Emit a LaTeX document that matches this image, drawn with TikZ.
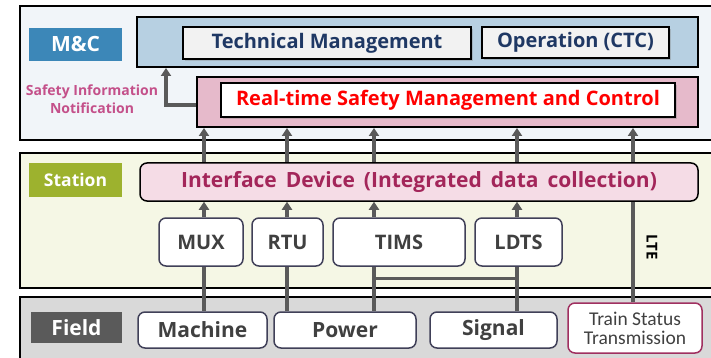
\documentclass[tikz,border=0pt]{standalone}
\usepackage{fontspec}
\setmainfont{Open Sans}
\newfontfamily\narrowfont{Carlito}
\usetikzlibrary{arrows.meta,shadows}

\definecolor{mcband}{HTML}{F1F5F9}
\definecolor{stband}{HTML}{F5F7E5}
\definecolor{fdband}{HTML}{D9D9D9}
\definecolor{mclabel}{HTML}{3C87B8}
\definecolor{stlabel}{HTML}{9DB22E}
\definecolor{fdlabel}{HTML}{5A5A5A}
\definecolor{mgmtblue}{HTML}{B7D0E2}
\definecolor{rtpink}{HTML}{E6BACB}
\definecolor{ifpink}{HTML}{F5DCE6}
\definecolor{iftext}{HTML}{A3265A}
\definecolor{navy}{HTML}{1F3864}
\definecolor{notif}{HTML}{C4508A}
\definecolor{wire}{HTML}{5A5A5A}
\definecolor{boxline}{HTML}{404058}
\definecolor{fieldtext}{HTML}{404040}
\definecolor{trainline}{HTML}{A03060}

\newcommand\wgap{\hspace{9pt}}

\begin{document}
\begin{tikzpicture}[x=1pt,y=-1pt,
  band/.style={draw=black,line width=1.5pt},
  layerlabel/.style={rectangle,inner sep=0pt,text=white,font=\bfseries\fontsize{21}{23}\selectfont},
  groupbox/.style={rectangle,draw=black,line width=2pt,inner sep=0pt},
  funcbox/.style={rectangle,draw=black,line width=1.5pt,fill=white!95!black,inner sep=0pt,
    drop shadow={shadow xshift=2pt,shadow yshift=-2pt,opacity=0.35}},
  unitbox/.style={rectangle,rounded corners=7pt,draw=boxline,line width=1.5pt,fill=white,inner sep=0pt,
    text=fieldtext,font=\bfseries\fontsize{20}{22}\selectfont},
  fieldbox/.style={rectangle,rounded corners=7pt,draw=boxline,line width=1.5pt,fill=white,inner sep=0pt,
    text=fieldtext,font=\bfseries\fontsize{21}{23}\selectfont},
  arr/.style={draw=wire,line width=3.5pt,-{Triangle[width=10pt,length=8pt]}},
  wireline/.style={draw=wire,line width=3.5pt}]
\useasboundingbox (0,0) rectangle (711,358);
\clip (0,0) rectangle (711,358);

% layer bands
\fill[white] (0,0) rectangle (711,358);
\draw[band,fill=mcband] (20,6) rectangle (716,140);
\draw[band,fill=stband] (20,153) rectangle (716,288);
\draw[band,fill=fdband] (20,297) rectangle (716,365);

% layer labels
\node[layerlabel,fill=mclabel,minimum width=93pt,minimum height=33pt] (mclab) at (75.5,44.5) {M\&C};
\node[layerlabel,fill=stlabel,minimum width=93pt,minimum height=34pt,
  font=\bfseries\fontsize{17.5}{20}\selectfont] (stlab) at (75.5,180) {Station};
\node[layerlabel,fill=fdlabel,minimum width=91pt,minimum height=31pt] (fdlab) at (76.5,327.5) {Field};

% column positions of the vertical links
\coordinate (c1) at (204,0);
\coordinate (c2) at (287,0);
\coordinate (c3) at (374,0);
\coordinate (c4) at (517,0);
\coordinate (c5) at (633,0);

% M&C layer
\node[groupbox,fill=mgmtblue,minimum width=561pt,minimum height=50pt] (mgmt) at (417.5,42) {};
\node[funcbox,minimum width=288pt,minimum height=32pt,text=navy,font=\bfseries\fontsize{20}{22}\selectfont] (tech) at (327,43) {Technical Management};
\node[funcbox,minimum width=187pt,minimum height=31pt,text=navy,font=\bfseries\fontsize{20}{22}\selectfont] (oper) at (575.5,42.5) {Operation (CTC)};
\node[groupbox,fill=rtpink,minimum width=501pt,minimum height=50pt] (rt) at (447.5,102) {};
\node[funcbox,fill=white,minimum width=454pt,minimum height=34pt,text=red,font=\bfseries\fontsize{20}{22}\selectfont] (rtin) at (448,100) {Real-time Safety Management and Control};

\node[text=notif,align=center,font=\bfseries\fontsize{14}{18}\selectfont] (notice) at (92,99) {Safety Information\\Notification};
\coordinate (nbend) at (166,105);
\draw[arr] ([yshift=-3pt]rt.west) -- (nbend) -- (nbend |- mgmt.south);

% station units
\node[unitbox,minimum width=84pt,minimum height=48pt] (mux) at (201,242) {MUX};
\node[unitbox,minimum width=71pt,minimum height=48pt] (rtu) at (287.5,242) {RTU};
\node[unitbox,minimum width=132pt,minimum height=48pt] (tims) at (399,242) {TIMS};
\node[unitbox,minimum width=87pt,minimum height=48pt] (ldts) at (518.5,242) {LDTS};

% field equipment
\node[fieldbox,minimum width=129pt,minimum height=36pt] (machine) at (202.5,330) {Machine};
\node[fieldbox,minimum width=142pt,minimum height=36pt] (power) at (345,330) {Power};
\node[fieldbox,minimum width=127pt,minimum height=36pt] (signal) at (493.5,330) {Signal};
\node[fieldbox,draw=trainline,minimum width=134pt,minimum height=50pt,align=center,
  font=\narrowfont\fontsize{19.5}{19}\selectfont] (train) at (635,328) {Train Status\\Transmission};

% links from the interface device up to safety control
\draw[arr] (c1 |- 0,163) -- (c1 |- rt.south);
\draw[arr] (c2 |- 0,163) -- (c2 |- rt.south);
\draw[arr] (c3 |- 0,163) -- (c3 |- rt.south);
\draw[arr] (c4 |- 0,163) -- (c4 |- rt.south);
\draw[arr] (c5 |- train.north) -- (c5 |- rt.south);

% interface device, drawn over the LTE link that passes behind it
\node[rectangle,rounded corners=7pt,draw=black,line width=1.5pt,fill=ifpink,
  minimum width=558pt,minimum height=38pt,inner sep=0pt,text=iftext,
  font=\bfseries\fontsize{21}{23}\selectfont] (iface) at (419,182)
  {Interface\wgap Device\wgap (Integrated\wgap data\wgap collection)};

% station units up to the interface device
\draw[arr] (c1 |- mux.north) -- (c1 |- iface.south);
\draw[arr] (c2 |- rtu.north) -- (c2 |- iface.south);
\draw[arr] (c3 |- tims.north) -- (c3 |- iface.south);
\draw[arr] (c4 |- ldts.north) -- (c4 |- iface.south);

% field equipment to station units
\draw[wireline] (c1 |- machine.north) -- (c1 |- mux.south);
\draw[wireline] (c2 |- power.north) -- (c2 |- rtu.south);
\draw[wireline] (c3 |- power.north) -- (c3 |- tims.south);
\draw[wireline] (c4 |- signal.north) -- (c4 |- ldts.south);
\draw[wireline,line width=3pt] (c3 |- 0,278) -- (c4 |- 0,278);

\node[rotate=-90,font=\bfseries\fontsize{15}{17}\selectfont] (lte) at (652,247) {LTE};
\end{tikzpicture}
\end{document}
